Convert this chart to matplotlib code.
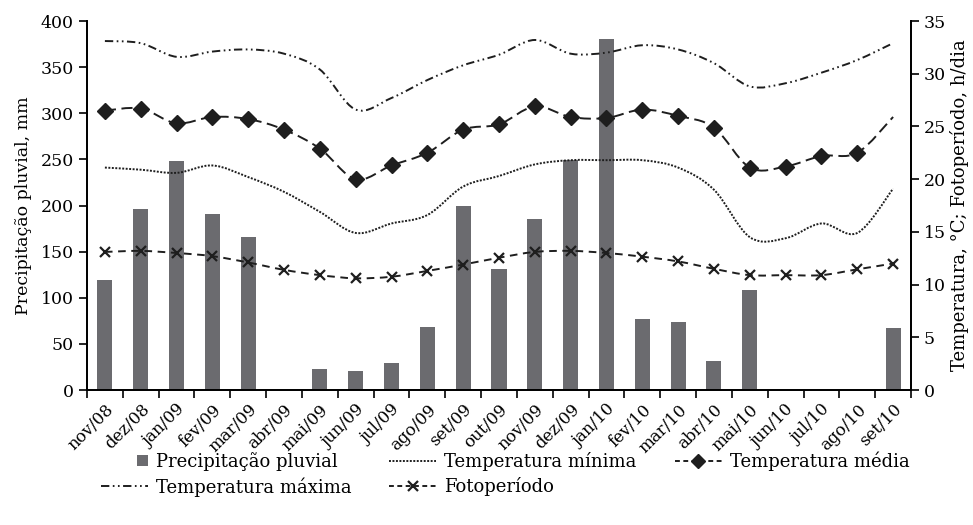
import numpy as np
import matplotlib
matplotlib.use("Agg")
import matplotlib.pyplot as plt
from matplotlib.path import Path
from matplotlib.patches import PathPatch, Patch, Rectangle
from matplotlib.lines import Line2D
from matplotlib.legend_handler import HandlerPatch

plt.rcParams['font.family'] = ['DejaVu Serif']
plt.rcParams['lines.scale_dashes'] = False

meses = ['nov/08', 'dez/08', 'jan/09', 'fev/09', 'mar/09', 'abr/09', 'mai/09', 'jun/09',
         'jul/09', 'ago/09', 'set/09', 'out/09', 'nov/09', 'dez/09', 'jan/10', 'fev/10',
         'mar/10', 'abr/10', 'mai/10', 'jun/10', 'jul/10', 'ago/10', 'set/10']

# precipitacao pluvial, mm
chuva = [119, 196, 248, 191, 166, 0, 23, 21, 29, 68, 199, 131, 185, 249, 380, 77,
         74, 31, 108, 0, 0, 0, 67]

# temperaturas, graus C
t_max = [33.1, 32.9, 31.6, 32.1, 32.3, 31.9, 30.4, 26.6, 27.7, 29.4, 30.8, 31.8,
         33.2, 31.9, 32.0, 32.7, 32.3, 31.0, 28.8, 29.1, 30.1, 31.3, 32.9]
t_med = [26.5, 26.7, 25.3, 25.9, 25.7, 24.7, 22.9, 20.0, 21.3, 22.5, 24.7, 25.2,
         26.9, 25.9, 25.8, 26.6, 26.0, 24.9, 21.1, 21.2, 22.2, 22.5, 25.9]
t_min = [21.1, 20.9, 20.6, 21.3, 20.2, 18.8, 16.9, 14.9, 15.8, 16.6, 19.3, 20.3,
         21.4, 21.8, 21.8, 21.8, 21.1, 19.0, 14.5, 14.4, 15.8, 14.9, 19.1]
# fotoperiodo, h/dia
foto = [13.1, 13.2, 13.0, 12.7, 12.1, 11.4, 10.9, 10.6, 10.75, 11.3, 11.9, 12.55,
        13.1, 13.2, 13.0, 12.65, 12.2, 11.5, 10.9, 10.9, 10.9, 11.45, 12.0]

cor_linha = '#1e1e1e'
cor_barra = '#6b6b6f'


def curva(x, y):
    # curva suavizada (tipo Excel) com segmentos de Bezier
    x = np.asarray(x, float)
    y = np.asarray(y, float)
    pts = np.column_stack([x, y])
    verts = [pts[0]]
    codes = [Path.MOVETO]
    n = len(pts)
    for i in range(n - 1):
        p0 = pts[i - 1] if i > 0 else pts[i]
        p1 = pts[i]
        p2 = pts[i + 1]
        p3 = pts[i + 2] if i + 2 < n else pts[i + 1]
        c1 = p1 + (p2 - p0) / 6.0
        c2 = p2 - (p3 - p1) / 6.0
        verts += [c1, c2, p2]
        codes += [Path.CURVE4] * 3
    return Path(verts, codes)


def quadradinho(legend, orig_handle, xdescent, ydescent, width, height, fontsize):
    # marcador de legenda pequeno e quadrado, encostado a direita
    lado = height * 0.85
    return Rectangle((width - lado - xdescent, -ydescent + (height - lado) / 2), lado, lado)


x = np.arange(len(meses))

fig = plt.figure(figsize=(9.73, 5.25), dpi=100)
ax = fig.add_axes([0.0894, 0.257, 0.8469, 0.703])
ax2 = ax.twinx()

ax.bar(x, chuva, width=0.42, color=cor_barra, zorder=1)
ax.set_ylim(0, 400)
ax.set_xlim(-0.5, 22.5)
ax.set_yticks(np.arange(0, 401, 50))
ax.set_xticks(x)
ax.set_xticklabels(meses, rotation=45, ha='right', rotation_mode='anchor', fontsize=12)
ax.set_xticks(np.arange(-0.5, 23, 1), minor=True)
ax.tick_params(axis='x', which='major', length=0, pad=8)
ax.tick_params(axis='x', which='minor', length=6, width=1.2, direction='out')
ax.tick_params(axis='y', length=6, width=1.2, labelsize=12.5)
ax.set_ylabel('Precipitação pluvial, mm', fontsize=12.5, labelpad=6)

ax2.set_ylim(0, 35)
ax2.set_yticks(np.arange(0, 36, 5))
ax2.tick_params(axis='y', length=6, width=1.2, labelsize=12.5, pad=3)
ax2.set_ylabel('Temperatura, °C; Fotoperíodo, h/dia', fontsize=13, labelpad=3)

for a in (ax, ax2):
    a.spines['top'].set_visible(False)
    a.spines['left'].set_linewidth(1.3)
    a.spines['right'].set_linewidth(1.3)
    a.spines['bottom'].set_linewidth(1.3)
    a.patch.set_visible(False)

estilo_max = (0, (6, 2.5, 1.2, 2.5, 1.2, 2.5))
estilo_min = (0, (1.4, 1.1))
estilo_med = (0, (8, 4))
estilo_foto = (0, (5.5, 4))

for serie, estilo in [(t_max, estilo_max), (t_min, estilo_min),
                      (t_med, estilo_med), (foto, estilo_foto)]:
    ax2.add_patch(PathPatch(curva(x, serie), fill=False, edgecolor=cor_linha,
                            linewidth=1.4, linestyle=estilo, zorder=3))

ax2.plot(x[:-1], t_med[:-1], linestyle='none', marker='D', markersize=8,
         color=cor_linha, zorder=4)
ax2.plot(x, foto, linestyle='none', marker='x', markersize=7, markeredgewidth=1.6,
         color=cor_linha, zorder=4)

handles = [
    Patch(facecolor=cor_barra, edgecolor='none'),
    Line2D([], [], color=cor_linha, lw=1.4, linestyle=estilo_max),
    Line2D([], [], color=cor_linha, lw=1.4, linestyle=estilo_min),
    Line2D([], [], color=cor_linha, lw=1.4, linestyle=(0, (3.5, 2.5)), marker='x',
           markersize=7, markeredgewidth=1.6),
    Line2D([], [], color=cor_linha, lw=1.4, linestyle=(0, (3.5, 2.5)), marker='D',
           markersize=7),
]
labels = ['Precipitação pluvial', 'Temperatura máxima', 'Temperatura mínima',
          'Fotoperíodo', 'Temperatura média']
fig.legend(handles, labels, ncol=3, loc='upper left', bbox_to_anchor=(0.096, 0.154),
           frameon=False, fontsize=13, handlelength=2.6, handletextpad=0.45,
           columnspacing=2.1, labelspacing=0.35, borderaxespad=0,
           handler_map={Patch: HandlerPatch(patch_func=quadradinho)})

fig.savefig('out.png', dpi=100)
